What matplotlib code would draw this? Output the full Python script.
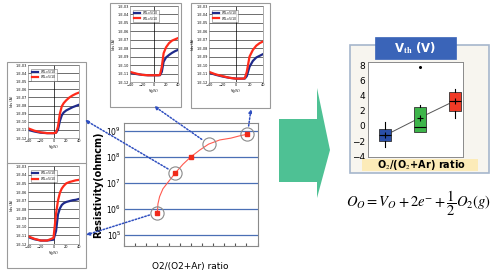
import numpy as np
import matplotlib
matplotlib.use('Agg')
import matplotlib.pyplot as plt
import matplotlib.transforms as mtransforms
from matplotlib.patches import Rectangle, Polygon
from matplotlib.ticker import FuncFormatter, NullFormatter

# main resistivity chart
ratio = [3.0, 4.6, 6.0, 7.6, 11.1]
resistivity = [7.4e5, 2.4e7, 1.0e8, 3.1e8, 7.4e8]
marked = [True, True, True, False, True]
circled = [True, True, False, True, True]
curve_x = [3.0, 3.05, 3.2, 3.5, 3.9, 4.6, 5.3, 6.0, 6.8, 7.6, 8.6, 9.6, 10.5, 11.1]
curve_log = [5.87, 6.2, 6.48, 6.78, 7.0, 7.38, 7.72, 8.0, 8.26, 8.49, 8.65, 8.72, 8.82, 8.87]

# transfer curves in the four small charts, log10(Ids)
vg = [-40, -30, -20, -10, 0, 4, 7, 10, 13, 16, 20, 25, 30, 35, 40]
tl_red = [-10.8, -11.1, -11.3, -11.4, -11.4, -11.35, -10.6, -9.0, -8.1, -7.7, -7.35, -7.0, -6.75, -6.55, -6.4]
tl_blue = [-11.0, -11.2, -11.35, -11.4, -11.4, -11.35, -11.0, -9.9, -9.2, -8.85, -8.6, -8.4, -8.2, -8.05, -7.9]
tm_red = [-10.8, -11.0, -11.15, -11.2, -11.2, -11.2, -11.2, -11.15, -10.2, -8.6, -7.9, -7.4, -7.1, -6.95, -6.8]
tm_blue = [-10.9, -11.05, -11.15, -11.2, -11.2, -11.2, -11.2, -11.2, -10.8, -9.6, -9.1, -8.8, -8.55, -8.35, -8.2]
tr_red = [-10.8, -11.1, -11.3, -11.5, -11.6, -11.6, -11.6, -11.6, -11.55, -10.8, -9.0, -8.2, -7.7, -7.4, -7.2]
tr_blue = [-10.9, -11.15, -11.35, -11.5, -11.6, -11.6, -11.6, -11.6, -11.6, -11.3, -10.2, -9.5, -9.1, -8.9, -8.7]
bl_red = [-11.1, -11.4, -11.6, -11.6, -11.3, -8.5, -7.0, -6.1, -5.6, -5.3, -5.0, -4.85, -4.75, -4.65, -4.6]
bl_blue = [-11.2, -11.45, -11.6, -11.6, -11.5, -10.5, -8.6, -7.9, -7.5, -7.3, -7.15, -7.05, -6.95, -6.9, -6.8]
legend_labels = ['W/L=5/10', 'W/L=5/10']

# Vth box plot
box_q1 = [-2.0, -0.78, 1.96]
box_q3 = [-0.47, 2.49, 4.5]
box_med = [-1.26, -0.16, 3.28]
box_lo = [-2.8, -0.8, 1.0]
box_hi = [0.55, 2.7, 4.8]
box_mean = [-1.26, 1.07, 3.3]
box_fliers = [[], [7.7], []]
box_colors = ['#2a4fa8', '#3db54a', '#f03a26']

plt.rcParams['mathtext.fontset'] = 'stix'

W, H = 503, 274
fig = plt.figure(figsize=(W / 100, H / 100), dpi=100)
fig.patch.set_facecolor('white')
px = mtransforms.Affine2D().scale(1 / W, -1 / H).translate(0, 1) + fig.transFigure


def rect(l, t, r, b):
    return [l / W, 1 - b / H, (r - l) / W, (b - t) / H]


def frame(l, t, r, b, fc='white', ec='#9a9a9a', lw=0.8, z=0):
    fig.add_artist(Rectangle((l, b), r - l, t - b, transform=px, fc=fc, ec=ec, lw=lw, zorder=z))


# main chart
ax = fig.add_axes(rect(124, 123, 257.5, 245.7))
ax.set_yscale('log')
ax.set_xlim(0, 12)
ax.set_ylim(10 ** 4.6, 10 ** 9.3)
for e in range(5, 10):
    ax.axhline(10.0 ** e, color='#4a6fb5', lw=0.9, zorder=1)
ax.plot(curve_x, 10 ** np.array(curve_log), color='#ff5a50', lw=0.8, zorder=2)
mx = [x for x, m in zip(ratio, marked) if m]
my = [y for y, m in zip(resistivity, marked) if m]
ax.plot(mx, my, 's', color='#f02a1a', ms=3, zorder=3)
cx = [x for x, c in zip(ratio, circled) if c]
cy = [y for y, c in zip(resistivity, circled) if c]
ax.plot(cx, cy, 'o', mfc='none', mec='#8a8a8a', ms=9.5, mew=0.8, zorder=3)
ax.set_xticks(range(0, 13))
ax.xaxis.set_major_formatter(NullFormatter())
ax.tick_params(axis='x', direction='in', length=2.5, color='#555')
ax.tick_params(axis='y', length=0, labelsize=5.5, pad=2)
ax.yaxis.set_minor_formatter(NullFormatter())
ax.tick_params(axis='y', which='minor', length=0)
for s in ax.spines.values():
    s.set_color('#8a8a8a')
    s.set_linewidth(0.8)
ax.set_ylabel('Resistivity(ohmcm)', fontsize=7, fontweight='bold', labelpad=2)
fig.text(190 / W, 1 - 266 / H, 'O2/(O2+Ar) ratio', fontsize=6.5, ha='center', va='center')


def inset(fr, pl, red, blue):
    frame(*fr)
    a = fig.add_axes(rect(*pl))
    a.set_yscale('log')
    a.set_ylim(1e-12, 1e-3)
    a.set_xlim(-40, 40)
    a.set_yticks([10.0 ** e for e in range(-12, -2)])
    a.yaxis.set_minor_formatter(NullFormatter())
    a.tick_params(which='minor', length=0)
    a.yaxis.set_major_formatter(FuncFormatter(lambda v, p: '1.E%03d' % int(round(np.log10(v)))))
    a.set_xticks([-40, -20, 0, 20, 40])
    a.tick_params(labelsize=2.5, length=0, pad=1)
    a.grid(axis='y', color='black', lw=0.4)
    a.axvline(0, color='black', lw=0.5)
    a.plot(vg, 10 ** np.array(blue), color='#1f2a8a', lw=1.6, label=legend_labels[0])
    a.plot(vg, 10 ** np.array(red), color='#ff2a1a', lw=1.6, label=legend_labels[1])
    for s in a.spines.values():
        s.set_color('#8a8a8a')
        s.set_linewidth(0.5)
    a.set_xlabel('Vg(V)', fontsize=2.5, labelpad=1)
    a.set_ylabel('Ids (A)', fontsize=2.5, labelpad=1)
    lg = a.legend(loc='upper left', fontsize=2.2, handlelength=2, frameon=True, fancybox=False,
                  borderpad=0.4, bbox_to_anchor=(0.03, 0.97))
    lg.get_frame().set_linewidth(0.4)
    lg.get_frame().set_edgecolor('#555')


inset((7, 62, 86, 164), (28, 65, 79, 138), tl_red, tl_blue)
inset((7, 163, 86, 268), (28, 166, 79, 244), bl_red, bl_blue)
inset((110, 3, 181, 107), (130, 6, 178, 82), tm_red, tm_blue)
inset((191, 3, 270, 108), (209, 6, 263, 82), tr_red, tr_blue)

# dotted arrows from circles to the small charts
targets = {0: (86, 235), 1: (85, 120), 3: (154, 106), 4: (251, 109)}
for i, (tx, ty) in targets.items():
    ax.annotate('', xy=(tx, ty), xycoords=px, xytext=(ratio[i], resistivity[i]), textcoords='data',
                arrowprops=dict(arrowstyle='-|>', ls=(0, (1, 1.2)), color='#2f4fc0', lw=1.1,
                                shrinkA=6, shrinkB=0, mutation_scale=5))

# big green arrow
fig.add_artist(Polygon([(279, 119), (317, 119), (317, 88), (330, 150), (317, 198), (317, 182), (279, 182)],
                       closed=True, transform=px, fc='#4ec194', ec='none'))

# Vth panel
frame(350, 45, 489, 173, fc='#f7f5ef', ec='#a6b6cc', lw=1.2)
bx = fig.add_axes(rect(368, 62, 463, 157))
stats = []
for i in range(3):
    stats.append(dict(med=box_med[i], q1=box_q1[i], q3=box_q3[i], whislo=box_lo[i], whishi=box_hi[i],
                      mean=box_mean[i], fliers=box_fliers[i]))
b = bx.bxp(stats, positions=[1, 2, 3], widths=0.33, showmeans=True, patch_artist=True, showcaps=False,
           meanprops=dict(marker='+', markeredgecolor='black', markersize=4, mew=0.8),
           medianprops=dict(color='black', lw=0.8),
           whiskerprops=dict(color='black', lw=0.8),
           boxprops=dict(lw=0.6),
           flierprops=dict(marker='o', markerfacecolor='black', markeredgecolor='black', markersize=1.2))
for p, c in zip(b['boxes'], box_colors):
    p.set_facecolor(c)
    p.set_edgecolor('#333')
bx.plot([1, 2, 3], box_mean, color='#555', lw=0.7, zorder=1)
bx.set_xlim(0.51, 3.23)
bx.set_ylim(-4.1, 8.4)
bx.set_yticks([-4, -2, 0, 2, 4, 6, 8])
bx.set_xticks([])
bx.tick_params(axis='y', labelsize=6.5, length=0, pad=2)
for s in bx.spines.values():
    s.set_color('#8a8a8a')
    s.set_linewidth(0.7)
frame(375, 37, 456, 59, fc='#3a64b8', ec='#3a64b8', lw=0.5, z=5)
fig.text(415.5 / W, 1 - 48 / H, r'V$_{\mathbf{th}}$ (V)', color='white', fontsize=8.5, fontweight='bold',
         ha='center', va='center', zorder=6)
frame(362, 159, 478, 171, fc='#fcebb8', ec='none', lw=0, z=5)
fig.text(421 / W, 1 - 165.5 / H, r'O$_2$/(O$_2$+Ar) ratio', fontsize=7, fontweight='bold',
         ha='center', va='center', zorder=6)

# reaction equation
fig.text(418 / W, 1 - 203 / H, r'$O_O = V_O + 2e^{-} + \dfrac{1}{2}O_2(g)$', fontsize=10.5,
         ha='center', va='center')

fig.savefig('out.png', dpi=100)
plt.close()
